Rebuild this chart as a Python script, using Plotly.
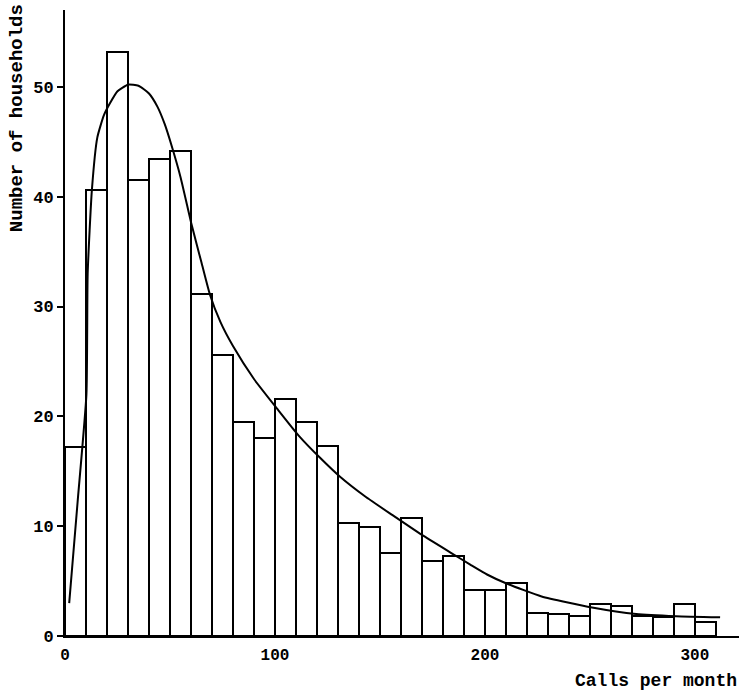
import plotly.graph_objects as go

# Histogram of monthly call counts (bins of 10 calls)
bin_width = 10
bin_starts = list(range(0, 310, bin_width))
households = [17.2, 40.6, 53.2, 41.5, 43.4, 44.2, 31.1, 25.6, 19.5, 18.0,
              21.6, 19.5, 17.3, 10.3, 9.9, 7.6, 10.7, 6.8, 7.3, 4.2,
              4.2, 4.8, 2.1, 2.0, 1.8, 2.9, 2.7, 1.8, 1.7, 2.9, 1.3]

# Fitted frequency curve
curve_x = [2, 6, 10.2, 10.8, 12.8, 15.4, 18.5, 21.4, 25, 30, 35, 40, 44, 47.5,
           51, 55, 60.5, 65, 69, 74, 80, 90, 101, 111.5, 121.6, 131, 143, 156,
           170, 183.6, 193, 201, 210, 227, 251, 272, 291, 312]
curve_y = [3.0, 12.2, 22.0, 33.0, 40.6, 45.4, 47.4, 48.5, 49.6, 50.2, 50.1,
           49.4, 48.2, 46.6, 44.5, 41.8, 37.3, 34.0, 31.1, 28.6, 26.4, 23.4,
           20.7, 18.2, 16.2, 14.5, 12.7, 11.0, 9.2, 7.6, 6.5, 5.6, 4.8, 3.6,
           2.6, 2.0, 1.8, 1.7]

x_ticks = [0, 100, 200, 300]
y_ticks = [0, 10, 20, 30, 40, 50]

mono = dict(family="Liberation Mono, DejaVu Sans Mono, monospace",
            size=17, color="black", weight="bold")

fig = go.Figure()
fig.add_trace(go.Bar(
    x=[s + bin_width / 2 for s in bin_starts],
    y=households,
    width=bin_width,
    marker=dict(color="white", line=dict(color="black", width=2)),
    showlegend=False,
))
fig.add_trace(go.Scatter(
    x=curve_x, y=curve_y, mode="lines",
    line=dict(color="black", width=2, shape="spline", smoothing=0.5),
    showlegend=False,
))

fig.update_layout(
    width=739, height=695,
    margin=dict(l=65, r=0, t=10, b=59),
    paper_bgcolor="white", plot_bgcolor="white",
    bargap=0,
    font=mono,
    annotations=[
        dict(text="Number of households", xref="paper", yref="paper",
             x=-0.072, y=0.828, textangle=-90, showarrow=False,
             font=dict(family=mono["family"], size=19, weight="bold"),
             xanchor="center", yanchor="middle"),
        dict(text="Calls per month", xref="paper", yref="paper",
             x=1.0, y=-0.072, showarrow=False,
             font=dict(family=mono["family"], size=18, weight="bold"),
             xanchor="right", yanchor="middle"),
    ],
)
fig.update_xaxes(
    range=[0, 321], tickvals=x_ticks, ticktext=[str(v) for v in x_ticks],
    showline=True, linecolor="black", linewidth=2, showgrid=False,
    zeroline=False, ticks="inside", ticklen=4, tickwidth=2, tickcolor="black",
    ticklabelstandoff=3, tickfont=dict(size=16),
)
fig.update_yaxes(
    range=[0, 57], tickvals=y_ticks, ticktext=[str(v) for v in y_ticks],
    showline=True, linecolor="black", linewidth=2, showgrid=False,
    zeroline=False, ticks="outside", ticklen=6, tickwidth=2, tickcolor="black",
    tickfont=dict(size=17),
)

fig.write_html("out.html")
